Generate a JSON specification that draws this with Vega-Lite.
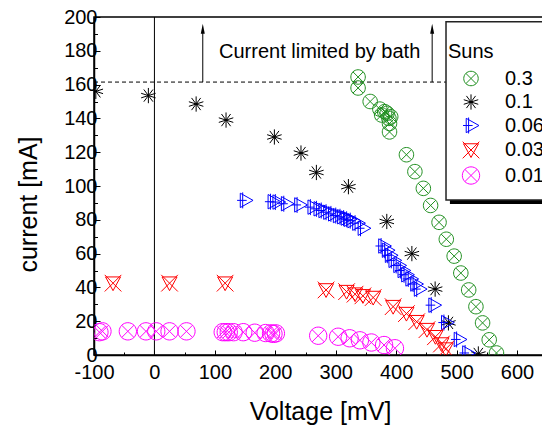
{
  "$schema": "https://vega.github.io/schema/vega-lite/v6.json",
  "width": 449,
  "height": 338,
  "autosize": {"type": "none"},
  "padding": {"left": 94, "top": 17, "right": 0, "bottom": 71},
  "background": "white",
  "config": {
    "view": {"stroke": "black", "strokeWidth": 1.5},
    "font": "Liberation Sans",
    "legend": {"symbolSize": 80, "symbolStrokeWidth": 1},
    "axis": {
      "grid": false,
      "domainColor": "black",
      "domainWidth": 1.5,
      "tickColor": "black",
      "tickWidth": 1,
      "labelColor": "black",
      "labelFontSize": 20,
      "labelFont": "Liberation Sans",
      "titleFont": "Liberation Sans",
      "titleFontSize": 25,
      "titleFontWeight": "normal",
      "titleColor": "black",
      "labelOverlap": false,
      "labelFlush": false,
      "labelBound": false
    }
  },
  "data": {
    "values": [
      {"suns": "0.3", "V": 337, "I": 164.5},
      {"suns": "0.3", "V": 337, "I": 158},
      {"suns": "0.3", "V": 357, "I": 150},
      {"suns": "0.3", "V": 373, "I": 145.5},
      {"suns": "0.3", "V": 376, "I": 142},
      {"suns": "0.3", "V": 381, "I": 144},
      {"suns": "0.3", "V": 385, "I": 143},
      {"suns": "0.3", "V": 388, "I": 140},
      {"suns": "0.3", "V": 391, "I": 141},
      {"suns": "0.3", "V": 389, "I": 137},
      {"suns": "0.3", "V": 389, "I": 132},
      {"suns": "0.3", "V": 417, "I": 118.5},
      {"suns": "0.3", "V": 431, "I": 108.5},
      {"suns": "0.3", "V": 445, "I": 98.6},
      {"suns": "0.3", "V": 457, "I": 88.5},
      {"suns": "0.3", "V": 471, "I": 78.5},
      {"suns": "0.3", "V": 483, "I": 68.5},
      {"suns": "0.3", "V": 496, "I": 58.5},
      {"suns": "0.3", "V": 507, "I": 48.5},
      {"suns": "0.3", "V": 520, "I": 38.5},
      {"suns": "0.3", "V": 532, "I": 28.6},
      {"suns": "0.3", "V": 543, "I": 19},
      {"suns": "0.3", "V": 554, "I": 9},
      {"suns": "0.3", "V": 566, "I": 1.2},
      {"suns": "0.1", "V": -97, "I": 156},
      {"suns": "0.1", "V": -10, "I": 153.5},
      {"suns": "0.1", "V": 69, "I": 148.5},
      {"suns": "0.1", "V": 118.5, "I": 139},
      {"suns": "0.1", "V": 198.5, "I": 129},
      {"suns": "0.1", "V": 242.5, "I": 119.5},
      {"suns": "0.1", "V": 268, "I": 108},
      {"suns": "0.1", "V": 321, "I": 99.6},
      {"suns": "0.1", "V": 384.5, "I": 79},
      {"suns": "0.1", "V": 426, "I": 60},
      {"suns": "0.1", "V": 464.5, "I": 39},
      {"suns": "0.1", "V": 486.5, "I": 19},
      {"suns": "0.1", "V": 536, "I": 0.6},
      {"suns": "0.06", "V": 150, "I": 91.5},
      {"suns": "0.06", "V": 196, "I": 90.7},
      {"suns": "0.06", "V": 204, "I": 90.5},
      {"suns": "0.06", "V": 218, "I": 89.5},
      {"suns": "0.06", "V": 240, "I": 88.8},
      {"suns": "0.06", "V": 262, "I": 87.5},
      {"suns": "0.06", "V": 272, "I": 86.5},
      {"suns": "0.06", "V": 280, "I": 85.5},
      {"suns": "0.06", "V": 288, "I": 84.5},
      {"suns": "0.06", "V": 296, "I": 83.5},
      {"suns": "0.06", "V": 304, "I": 82.5},
      {"suns": "0.06", "V": 311, "I": 81.8},
      {"suns": "0.06", "V": 317, "I": 81},
      {"suns": "0.06", "V": 322, "I": 80.3},
      {"suns": "0.06", "V": 328, "I": 79.5},
      {"suns": "0.06", "V": 336, "I": 78},
      {"suns": "0.06", "V": 345, "I": 75},
      {"suns": "0.06", "V": 379, "I": 64.5},
      {"suns": "0.06", "V": 385, "I": 62},
      {"suns": "0.06", "V": 390, "I": 59},
      {"suns": "0.06", "V": 396, "I": 56},
      {"suns": "0.06", "V": 404, "I": 53},
      {"suns": "0.06", "V": 411, "I": 50},
      {"suns": "0.06", "V": 417, "I": 47.5},
      {"suns": "0.06", "V": 424, "I": 45},
      {"suns": "0.06", "V": 432, "I": 42},
      {"suns": "0.06", "V": 438, "I": 39},
      {"suns": "0.06", "V": 462, "I": 29.5},
      {"suns": "0.06", "V": 483, "I": 19.2},
      {"suns": "0.06", "V": 504, "I": 9.2},
      {"suns": "0.06", "V": 518, "I": 1.2},
      {"suns": "0.03", "V": -68.5, "I": 42.5},
      {"suns": "0.03", "V": 25, "I": 42.5},
      {"suns": "0.03", "V": 117, "I": 42.5},
      {"suns": "0.03", "V": 284, "I": 38.5},
      {"suns": "0.03", "V": 318, "I": 37.5},
      {"suns": "0.03", "V": 332, "I": 36},
      {"suns": "0.03", "V": 345, "I": 35},
      {"suns": "0.03", "V": 362, "I": 34},
      {"suns": "0.03", "V": 395, "I": 28.6},
      {"suns": "0.03", "V": 417, "I": 24.5},
      {"suns": "0.03", "V": 434, "I": 19.7},
      {"suns": "0.03", "V": 451, "I": 15},
      {"suns": "0.03", "V": 465, "I": 10.8},
      {"suns": "0.03", "V": 475, "I": 6.5},
      {"suns": "0.03", "V": 482, "I": 3.5},
      {"suns": "0.01", "V": -91, "I": 13.5},
      {"suns": "0.01", "V": -86, "I": 14},
      {"suns": "0.01", "V": -44, "I": 14},
      {"suns": "0.01", "V": -14, "I": 14},
      {"suns": "0.01", "V": 3, "I": 14},
      {"suns": "0.01", "V": 25, "I": 14},
      {"suns": "0.01", "V": 53, "I": 14},
      {"suns": "0.01", "V": 113, "I": 13.5},
      {"suns": "0.01", "V": 118, "I": 13.5},
      {"suns": "0.01", "V": 123, "I": 13.5},
      {"suns": "0.01", "V": 131, "I": 13.5},
      {"suns": "0.01", "V": 147, "I": 13.5},
      {"suns": "0.01", "V": 166, "I": 13.2},
      {"suns": "0.01", "V": 184, "I": 13},
      {"suns": "0.01", "V": 193, "I": 12.8},
      {"suns": "0.01", "V": 197, "I": 12.5},
      {"suns": "0.01", "V": 201, "I": 12.8},
      {"suns": "0.01", "V": 271, "I": 11.4},
      {"suns": "0.01", "V": 304, "I": 10.8},
      {"suns": "0.01", "V": 323, "I": 9.9},
      {"suns": "0.01", "V": 340, "I": 8.7},
      {"suns": "0.01", "V": 359, "I": 7.4},
      {"suns": "0.01", "V": 380, "I": 5.9},
      {"suns": "0.01", "V": 398, "I": 4}
    ]
  },
  "layer": [
    {
      "data": {"values": [{}]},
      "mark": {"type": "rule", "color": "black", "strokeWidth": 1},
      "encoding": {
        "x": {"datum": 0},
        "y": {"datum": 0},
        "y2": {"datum": 200}
      }
    },
    {
      "data": {"values": [{}]},
      "mark": {"type": "rule", "color": "black", "strokeWidth": 1, "strokeDash": [4, 3]},
      "encoding": {
        "x": {"datum": -100},
        "x2": {"datum": 482.5},
        "y": {"datum": 161.5}
      }
    },
    {
      "data": {"values": [{"ax": 80}, {"ax": 459.6}]},
      "mark": {"type": "rule", "color": "black", "strokeWidth": 1},
      "encoding": {
        "x": {"field": "ax", "type": "quantitative"},
        "y": {"datum": 161.5},
        "y2": {"datum": 191}
      }
    },
    {
      "data": {"values": [{"ax": 80}, {"ax": 459.6}]},
      "mark": {"type": "point", "filled": true, "color": "black", "opacity": 1, "size": 100, "shape": "M0,-1L0.4,1L-0.4,1Z"},
      "encoding": {
        "x": {"field": "ax", "type": "quantitative"},
        "y": {"datum": 193.1}
      }
    },
    {
      "data": {"values": [{}]},
      "mark": {"type": "text", "fontSize": 20, "font": "Liberation Sans", "align": "center", "baseline": "alphabetic", "color": "black"},
      "encoding": {
        "x": {"datum": 273.4},
        "y": {"datum": 176},
        "text": {"value": "Current limited by bath"}
      }
    },
    {
      "data": {"values": [{}]},
      "mark": {"type": "rect", "fill": "black", "clip": true},
      "encoding": {
        "x": {"datum": 489},
        "x2": {"datum": 700},
        "y": {"datum": 89.3},
        "y2": {"datum": 91.7}
      }
    },
    {
      "data": {"values": [{}]},
      "mark": {"type": "rect", "fill": "white", "stroke": "#222222", "strokeWidth": 1.5, "clip": true},
      "encoding": {
        "x": {"datum": 482.5},
        "x2": {"datum": 700},
        "y": {"datum": 91.7},
        "y2": {"datum": 197.2}
      }
    },
    {
      "mark": {"type": "point", "filled": false, "strokeWidth": 1, "opacity": 1, "clip": true},
      "encoding": {
        "x": {
          "field": "V",
          "type": "quantitative",
          "scale": {"domain": [-100, 643], "nice": false, "zero": false},
          "axis": {
            "title": "Voltage [mV]",
            "values": [-100, -50, 0, 50, 100, 150, 200, 250, 300, 350, 400, 450, 500, 550, 600],
            "tickCount": 40,
            "labelExpr": "datum.value % 100 === 0 ? '' + datum.value : ''",
            "tickSize": {"condition": {"test": "datum.value % 100 === 0", "value": -5}, "value": -3},
            "labelPadding": 12,
            "labelFontSize": 20,
            "labelFont": "Liberation Sans",
            "labelColor": "black",
            "labelOverlap": false,
            "titleFontSize": 25,
            "titleX": 226,
            "titleY": 64,
            "titleBaseline": "alphabetic",
            "titleAnchor": "middle"
          }
        },
        "y": {
          "field": "I",
          "type": "quantitative",
          "scale": {"domain": [0, 200], "nice": false, "zero": false},
          "axis": {
            "title": "current [mA]",
            "values": [0, 10, 20, 30, 40, 50, 60, 70, 80, 90, 100, 110, 120, 130, 140, 150, 160, 170, 180, 190, 200],
            "tickCount": 40,
            "labelExpr": "datum.value % 20 === 0 ? '' + datum.value : ''",
            "tickSize": {"condition": {"test": "datum.value % 20 === 0", "value": -6}, "value": -3.5},
            "labelPadding": 3,
            "labelFontSize": 20,
            "labelFont": "Liberation Sans",
            "labelColor": "black",
            "labelOverlap": false,
            "titleFontSize": 25,
            "titleX": -58,
            "titleY": 187,
            "titleAngle": 270,
            "titleBaseline": "alphabetic",
            "titleAnchor": "middle"
          }
        },
        "color": {
          "field": "suns",
          "type": "nominal",
          "scale": {
            "domain": ["0.3", "0.1", "0.06", "0.03", "0.01"],
            "range": ["#1f8f1f", "#000000", "#0000ff", "#ff0000", "#ff00ff"]
          },
          "legend": {
            "title": "Suns",
            "orient": "none",
            "legendX": 354,
            "legendY": 25,
            "padding": 0,
            "titleFontSize": 20,
            "titleFontWeight": "normal",
            "titleColor": "black",
            "titleFont": "Liberation Sans",
            "titlePadding": 6.5,
            "labelFontSize": 20,
            "labelColor": "black",
            "labelFont": "Liberation Sans",
            "symbolSize": 80,
            "symbolStrokeWidth": 1,
            "symbolOffset": 13,
            "labelOffset": 24,
            "rowPadding": 3.5,
            "encode": {
              "symbols": {
                "enter": {"size": {"value": 80}},
                "update": {"size": {"value": 80}, "strokeWidth": {"value": 1}}
              }
            }
          }
        },
        "shape": {
          "field": "suns",
          "type": "nominal",
          "scale": {
            "domain": ["0.3", "0.1", "0.06", "0.03", "0.01"],
            "range": [
              "M-1,0A1,1,0,1,1,1,0A1,1,0,1,1,-1,0ZM-0.71,-0.71L0.71,0.71M-0.71,0.71L0.71,-0.71",
              "M0,-1L0,1M-0.95,-0.3L0.95,0.3M-0.95,0.3L0.95,-0.3M-0.6,-0.8L0.6,0.8M0.6,-0.8L-0.6,0.8",
              "M-0.6,-0.9L1,0L-0.6,0.9ZM-1,0L0.2,0M-0.3,-1L-0.3,1",
              "M-0.9,-0.75L0.9,-0.75L0,0.9ZM-1,-1L1,1M1,-1L-1,1",
              "M-1,0A1,1,0,1,1,1,0A1,1,0,1,1,-1,0ZM-0.71,-0.71L0.71,0.71M-0.71,0.71L0.71,-0.71"
            ]
          }
        },
        "size": {
          "field": "suns",
          "type": "ordinal",
          "scale": {
            "domain": ["0.3", "0.1", "0.06", "0.03", "0.01"],
            "range": [210, 300, 200, 230, 230]
          },
          "legend": null
        }
      }
    }
  ]
}
